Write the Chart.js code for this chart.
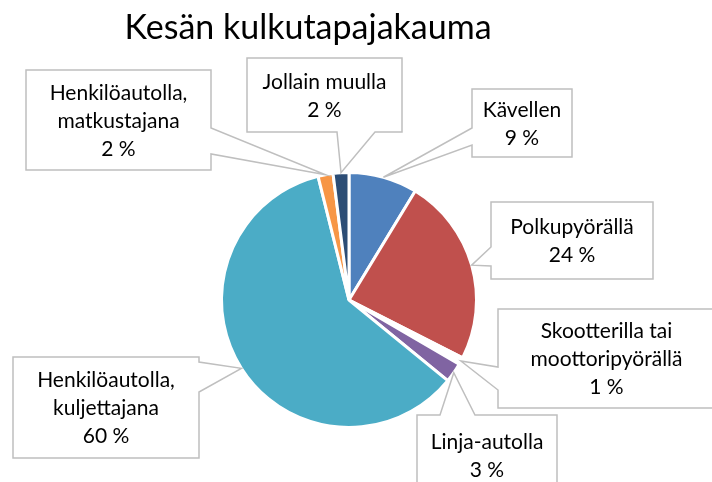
<!DOCTYPE html>
<html lang="fi">
<head>
    <meta charset="UTF-8">
    <title>Kesän kulkutapajakauma</title>
    <script src="https://cdn.jsdelivr.net/npm/chart.js"></script>
    <style>
        html, body { margin: 0; padding: 0; background: #fff; }
    </style>
</head>
<body>
    <canvas id="kulkutapaCanvas" width="712" height="482"></canvas>
    <script>
        // Tiedot kuvasta
        const chartTitle = 'Kesän kulkutapajakauma';
        const categories = [
            ['Kävellen'],
            ['Polkupyörällä'],
            ['Skootterilla tai', 'moottoripyörällä'],
            ['Linja-autolla'],
            ['Henkilöautolla,', 'kuljettajana'],
            ['Henkilöautolla,', 'matkustajana'],
            ['Jollain muulla']
        ];
        const shares = [8.7, 23.8, 0.9, 2.5, 60.2, 1.9, 2.0];   // arvioitu siivujen koosta
        const percentLabels = ['9 %', '24 %', '1 %', '3 %', '60 %', '2 %', '2 %'];

        // Ulkoasu
        const sliceColors = ['#4f81bd', '#c0504d', '#ffffff', '#8064a2', '#4bacc6', '#f79646', '#2c4d75'];
        const labelFont = '21px Lato';
        const titleFont = '34px Lato';
        // laatikot: x, y, leveys, korkeus, sivu jolla nuoli on, nuolen kanta
        const calloutBoxes = [
            { x: 472, y: 89,  w: 100, h: 68,  side: 'left',   from: 39, to: 56 },
            { x: 491, y: 202, w: 162, h: 77,  side: 'left',   from: 45, to: 64 },
            { x: 498, y: 309, w: 217, h: 99,  side: 'left',   from: 58, to: 81 },
            { x: 417, y: 415, w: 140, h: 80,  side: 'top',    from: 23, to: 58 },
            { x: 13,  y: 357, w: 186, h: 101, side: 'right',  from: 5,  to: 35 },
            { x: 26,  y: 70,  w: 185, h: 100, side: 'right',  from: 58, to: 84 },
            { x: 247, y: 58,  w: 155, h: 74,  side: 'bottom', from: 90, to: 128 }
        ];

        const calloutPlugin = {
            id: 'callouts',
            afterDatasetsDraw(chart) {
                const ctx = chart.ctx;
                const arcs = chart.getDatasetMeta(0).data;
                ctx.save();
                arcs.forEach((arc, i) => {
                    const b = calloutBoxes[i];
                    const mid = (arc.startAngle + arc.endAngle) / 2;
                    const tx = arc.x + Math.cos(mid) * arc.outerRadius;
                    const ty = arc.y + Math.sin(mid) * arc.outerRadius;
                    const L = b.x, T = b.y, R = b.x + b.w, B = b.y + b.h;

                    ctx.beginPath();
                    ctx.moveTo(L, T);
                    if (b.side === 'top') { ctx.lineTo(L + b.from, T); ctx.lineTo(tx, ty); ctx.lineTo(L + b.to, T); }
                    ctx.lineTo(R, T);
                    if (b.side === 'right') { ctx.lineTo(R, T + b.from); ctx.lineTo(tx, ty); ctx.lineTo(R, T + b.to); }
                    ctx.lineTo(R, B);
                    if (b.side === 'bottom') { ctx.lineTo(L + b.to, B); ctx.lineTo(tx, ty); ctx.lineTo(L + b.from, B); }
                    ctx.lineTo(L, B);
                    if (b.side === 'left') { ctx.lineTo(L, T + b.to); ctx.lineTo(tx, ty); ctx.lineTo(L, T + b.from); }
                    ctx.closePath();
                    ctx.fillStyle = '#ffffff';
                    ctx.fill();
                    ctx.lineWidth = 1.5;
                    ctx.strokeStyle = '#bfbfbf';
                    ctx.stroke();

                    const lines = chart.data.labels[i].concat(percentLabels[i]);
                    const lineH = 28;
                    const cx = L + b.w / 2;
                    let cy = T + b.h / 2 - (lines.length - 1) * lineH / 2 + 1;
                    ctx.fillStyle = '#000000';
                    ctx.font = labelFont;
                    ctx.textAlign = 'center';
                    ctx.textBaseline = 'middle';
                    lines.forEach(line => {
                        ctx.fillText(line, cx, cy);
                        cy += lineH;
                    });
                });

                ctx.font = titleFont;
                ctx.fillStyle = '#000000';
                ctx.textAlign = 'center';
                ctx.textBaseline = 'middle';
                ctx.fillText(chartTitle, 308, 28);
                ctx.restore();
            }
        };

        const ctx = document.getElementById('kulkutapaCanvas').getContext('2d');
        new Chart(ctx, {
            type: 'pie',
            data: {
                labels: categories,
                datasets: [{
                    data: shares,
                    backgroundColor: sliceColors,
                    borderColor: '#ffffff',
                    borderWidth: 3
                }]
            },
            options: {
                responsive: false,
                animation: false,
                layout: { padding: { left: 220, right: 234, top: 171, bottom: 53 } },
                plugins: {
                    legend: { display: false },
                    tooltip: { enabled: false },
                    title: { display: false }
                }
            },
            plugins: [calloutPlugin]
        });
    </script>
</body>
</html>
